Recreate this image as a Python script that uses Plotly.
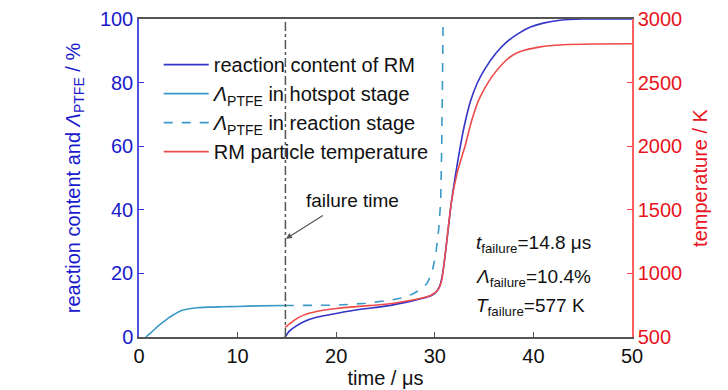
import plotly.graph_objects as go

# ---- data ----
t_hot = [0.7, 1.0, 1.5, 2.0, 2.5, 3.0, 3.5, 4.2, 5.0, 5.9, 7.0, 8.5, 10.0, 12.0, 14.8]
lam_hot = [0.0, 0.8, 2.2, 3.6, 4.8, 6.0, 7.0, 8.2, 8.8, 9.2, 9.4, 9.5, 9.6, 9.8, 9.9]

t_rea = [14.8, 17.0, 20.0, 23.0, 25.5, 26.8, 27.8, 28.6, 29.2, 29.7, 30.1, 30.4, 30.6, 30.7, 30.8, 30.85]
lam_rea = [9.9, 9.9, 10.0, 10.6, 11.6, 12.4, 13.6, 15.0, 16.8, 20.0, 26.0, 34.0, 42.8, 60.0, 85.0, 100.0]

t_rc = [14.8, 15.3, 16.0, 16.7, 18.0, 20.0, 22.5, 25.0, 28.0, 29.5, 30.0, 30.5, 30.8, 31.1, 31.7, 32.5,
        33.0, 33.6, 34.3, 35.1, 36.2, 37.3, 38.5, 39.7, 41.0, 42.7, 45.0, 50.0]
rc = [0.0, 2.0, 3.6, 4.8, 6.2, 7.4, 8.7, 9.7, 11.6, 12.8, 13.7, 16.0, 20.0, 27.0, 42.8, 58.4,
      66.5, 74.0, 79.8, 84.4, 89.2, 92.8, 95.5, 97.5, 98.7, 99.6, 100.0, 100.0]

t_T = [14.8, 15.0, 15.8, 16.7, 18.0, 20.0, 22.5, 25.0, 28.0, 29.5, 30.0, 30.4, 30.7, 31.1, 31.7, 32.3,
       33.1, 33.7, 34.4, 35.1, 35.8, 36.9, 37.7, 38.6, 40.7, 43.0, 46.0, 50.0]
temp = [577, 586, 635, 672, 700, 724, 742, 758, 795, 825, 846, 880, 945, 1180, 1570, 1800,
        2010, 2190, 2352, 2460, 2547, 2650, 2705, 2742, 2781, 2797, 2803, 2805]

x_ticks = [0, 10, 20, 30, 40, 50]
y_ticks = [0, 20, 40, 60, 80, 100]
y2_ticks = [500, 1000, 1500, 2000, 2500, 3000]

BLUE = "#3434c8"
CYAN = "#3a9ac6"
RED = "#ee4b4b"
FONT = "Liberation Sans, Arial, sans-serif"

fig = go.Figure()
fig.add_trace(go.Scatter(x=t_T, y=temp, mode="lines", line=dict(color=RED, width=1.6, shape="spline", smoothing=0.6),
                         name="RM particle temperature", yaxis="y2", legendrank=4))
fig.add_trace(go.Scatter(x=t_rc, y=rc, mode="lines", line=dict(color=BLUE, width=1.6, shape="spline", smoothing=0.6),
                         name="reaction content of RM", legendrank=1))
fig.add_trace(go.Scatter(x=t_hot, y=lam_hot, mode="lines", line=dict(color=CYAN, width=1.6, shape="spline", smoothing=0.6),
                         name="<i>Λ</i><sub>PTFE</sub> in hotspot stage", legendrank=2))
fig.add_trace(go.Scatter(x=t_rea, y=lam_rea, mode="lines", line=dict(color=CYAN, width=1.6, dash="dash"),
                         name="<i>Λ</i><sub>PTFE</sub> in reaction stage", legendrank=3))

# failure time line
fig.add_shape(type="line", x0=14.85, x1=14.85, y0=0, y1=1, xref="x", yref="paper",
              line=dict(color="#555555", width=1.5, dash="dashdot"))

fig.add_annotation(x=14.9, y=30.9, ax=18.8, ay=38.5, xref="x", yref="y", axref="x", ayref="y",
                   text="", showarrow=True, arrowhead=2, arrowsize=1, arrowwidth=1.2, arrowcolor="#555555")
fig.add_annotation(x=21.7, y=42.8, xref="x", yref="y", text="failure time", showarrow=False,
                   font=dict(size=19, color="#111111", family=FONT))

stats = [("<i>t</i><sub>failure</sub>=14.8 μs", 29.3),
         ("<i>Λ</i><sub>failure</sub>=10.4%", 18.4),
         ("<i>T</i><sub>failure</sub>=577 K", 9.5)]
for txt, yy in stats:
    fig.add_annotation(x=34.0, y=yy, xref="x", yref="y", text=txt, showarrow=False, xanchor="left",
                       font=dict(size=19, color="#111111", family=FONT))

# page body has an 8px margin: the figure is sized/offset to land on the reference's pixels
fig.update_layout(
    width=720, height=382,
    margin=dict(l=131, r=96, t=11, b=53, autoexpand=False),
    paper_bgcolor="white", plot_bgcolor="white",
    font=dict(family=FONT, size=20, color="#111111"),
    showlegend=True,
    legend=dict(x=0.04, y=0.918, xanchor="left", yanchor="top", bgcolor="rgba(0,0,0,0)",
                font=dict(size=20, color="#111111", family=FONT), tracegroupgap=0, itemwidth=45),
    xaxis=dict(range=[0, 50], tickvals=x_ticks, ticks="inside", ticklen=5, tickcolor="#555555",
               showline=True, linecolor="#555555", linewidth=1.5, mirror=True, showgrid=False, zeroline=False,
               automargin=False, ticklabeloverflow="allow",
               title=dict(text="time / μs", font=dict(size=20, color="#111111"), standoff=5),
               tickfont=dict(size=20, color="#111111")),
    yaxis=dict(range=[0, 100], tickvals=y_ticks, ticks="inside", ticklen=5, tickcolor=BLUE,
               showline=True, linecolor="#5050e0", linewidth=1.5, showgrid=False, zeroline=False,
               automargin=False, ticklabeloverflow="allow",
               title=dict(text="reaction content and <i>Λ</i><sub>PTFE</sub> / %",
                          font=dict(size=20, color="#1a1acc"), standoff=14),
               tickfont=dict(size=20, color="#1a1acc")),
    yaxis2=dict(range=[500, 3000], tickvals=y2_ticks, overlaying="y", side="right", anchor="x",
                ticks="inside", ticklen=5, tickcolor=RED, automargin=False, ticklabeloverflow="allow",
                showline=True, linecolor="#ff6060", linewidth=1.5, showgrid=False, zeroline=False,
                title=dict(text="temperature / K", font=dict(size=20, color="#e8141e"), standoff=12),
                tickfont=dict(size=20, color="#e8141e")),
)

fig.write_html("out.html")
